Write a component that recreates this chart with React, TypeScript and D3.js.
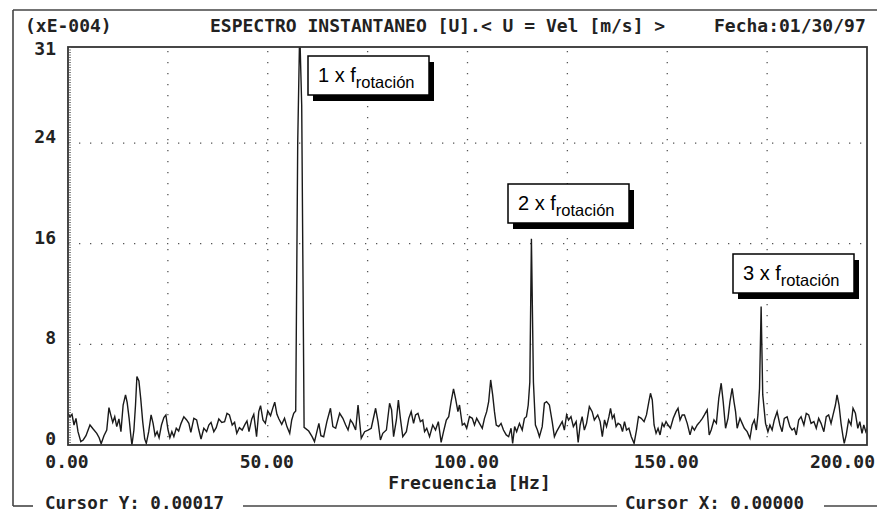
import * as d3 from 'd3';
import React, { useRef, useEffect } from 'react';

// spectrum (frequency in Hz, amplitude in xE-004)
const freqHz = [
  0, 0.5, 1, 1.5, 2, 2.5, 3.2, 3.8, 4.5, 5.5, 6.3, 7.2, 7.8, 8.3, 9, 9.7, 10.25, 10.7, 11.2, 11.7,
  12.2, 12.75, 13.25, 13.8, 14.4, 14.8, 15.3, 15.7, 16, 16.5, 16.9, 17.25, 17.75, 18.2, 18.7, 19.2, 19.6, 20.2, 20.8, 21.3,
  21.8, 22.3, 22.8, 23.4, 24, 24.5, 25, 25.5, 26, 26.5, 27.1, 27.7, 28.3, 29, 29.7, 30.25, 30.75, 31.5, 32.2, 32.75,
  33.3, 34, 34.7, 35.25, 35.8, 36.5, 37.1, 37.75, 38.5, 39.2, 39.8, 40.4, 41.1, 41.7, 42.25, 42.9, 43.6, 44.3, 44.8, 45.3,
  46, 46.5, 47.2, 47.75, 48.2, 48.8, 49.4, 50, 50.7, 51.3, 51.75, 52.3, 52.8, 53.5, 54.2, 54.8, 55.5, 56, 56.5, 57,
  57.5, 58, 58.5, 59.1, 60.25, 61.1, 61.7, 62.3, 62.8, 63.3, 64, 64.8, 65.7, 66.3, 67, 68, 68.8, 69.5, 70.1, 70.7,
  71.3, 72, 72.6, 73.4, 74.25, 75.1, 75.9, 77, 77.6, 78.2, 78.8, 79.7, 80.5, 81, 81.5, 82.2, 82.7, 83.2, 83.8, 84.7,
  85.3, 85.9, 86.5, 87, 87.6, 88.2, 88.8, 89.25, 89.8, 90.5, 91.3, 92, 92.7, 93.4, 94, 94.7, 95.3, 95.9, 96.5, 97,
  97.6, 98, 98.7, 99.25, 99.8, 100.5, 101.2, 101.75, 102.3, 103, 103.7, 104.25, 104.8, 105.3, 105.8, 106.3, 106.75, 107.2, 107.8, 108.4,
  109, 109.7, 110.3, 110.9, 111.3, 111.8, 112.3, 113, 113.7, 114.25, 114.75, 115.2, 115.6, 116, 116.5, 117, 117.5, 118, 118.7, 119.25,
  119.8, 120.5, 121.2, 121.75, 122.3, 123, 123.7, 124.25, 124.8, 125.3, 125.9, 126.5, 127.2, 127.7, 128.2, 128.7, 129.25, 129.8, 130.5, 131.2,
  131.75, 132.6, 133.2, 133.75, 134.3, 134.8, 135.4, 135.8, 136.25, 136.7, 137.2, 137.7, 138.3, 138.8, 139.3, 139.8, 140.4, 141, 141.7, 142.3,
  142.8, 143.5, 144.2, 144.8, 145.4, 145.8, 146.25, 146.7, 147.2, 147.7, 148.2, 148.75, 149.2, 149.7, 150.2, 150.8, 151.5, 152.2, 152.7, 153.2,
  153.75, 154.3, 155, 155.7, 156.25, 156.8, 157.5, 158.2, 158.8, 159.3, 160, 160.5, 161, 161.7, 162.3, 162.9, 163.5, 164, 164.6, 165.2,
  165.7, 166.25, 166.7, 167.1, 167.5, 168.2, 168.75, 169.3, 170, 170.7, 171.25, 171.8, 172.3, 172.7, 173.1, 173.5, 173.9, 174.6, 175.2, 175.7,
  176.25, 176.8, 177.5, 178.2, 178.75, 179.3, 180, 180.7, 181.25, 181.8, 182.3, 182.9, 183.5, 184.2, 184.8, 185.4, 186, 186.7, 187.3, 187.9,
  188.5, 189.2, 189.8, 190.4, 191, 191.5, 192.1, 192.5, 193, 193.5, 194, 194.3, 194.8, 195.4, 196, 196.5, 197.1, 197.7, 198.2, 198.75,
  199.2, 199.7, 200
];

const amplitude = [
  2.52, 2.25, 2.44, 1.59, 2.12, 1.06, 0.27, 0.4, 0.74, 1.59, 1.27, 0.93, 0.58, 0.1, 0.74, 1.19, 2.97, 2.39, 1.8, 2.25,
  1.46, 2.07, 1.06, 3.18, 3.98, 3.4, 2.12, 0.8, 0, 1.19, 3.18, 5.44, 5.09, 3.71, 1.86, 0.48, 0.13, 1.06, 2.39, 1.72,
  0.74, 1.06, 0.58, 1.59, 2.18, 2.39, 1.27, 0.58, 1.06, 0.66, 1.33, 1.11, 1.72, 2.25, 1.99, 1.72, 1.01, 2.12, 1.99, 1.19,
  0.48, 1.33, 1.06, 1.59, 1.8, 1.06, 1.38, 2.07, 1.8, 1.86, 2.52, 2.39, 1.59, 1.8, 0.93, 1.38, 1.19, 1.64, 1.91, 1.06,
  2.07, 2.44, 0.66, 2.65, 3.13, 1.99, 1.72, 2.71, 2.33, 2.97, 3.4, 2.44, 2.07, 1.64, 2.12, 1.46, 0.93, 1.99, 2.52, 2.71,
  24, 33, 27, 1.4, 1.11, 0.66, 0.27, 1.06, 1.72, 0.74, 0.66, 1.86, 2.92, 1.46, 1.33, 2.52, 2.12, 1.59, 1.19, 1.99,
  1.72, 1.19, 3.18, 0.53, 1.06, 1.19, 1.33, 2.92, 1.86, 0.4, 0.93, 1.19, 3.32, 2.79, 0.66, 1.99, 3.58, 2.12, 0.66, 1.06,
  2.12, 2.65, 1.72, 2.39, 2.52, 1.86, 1.99, 1.06, 1.33, 0.66, 1.59, 1.19, 1.86, 0.21, 1.06, 1.99, 2.25, 3.45, 4.46, 3.71,
  2.65, 3.18, 1.59, 1.72, 1.33, 2.25, 2.12, 1.59, 2.12, 1.72, 1.33, 2.12, 2.65, 3.45, 5.17, 3.98, 2.65, 1.59, 1.46, 1.72,
  1.19, 0.8, 0.66, 1.33, 0.13, 1.46, 1.06, 1.72, 1.19, 2.12, 2.25, 3.18, 5, 16.4, 5, 1.59, 1.19, 0.66, 1.46, 3.32,
  3.45, 3.18, 1.86, 0.66, 1.06, 1.46, 1.86, 1.19, 2.39, 1.99, 2.25, 1.46, 1.86, 0.21, 1.59, 2.25, 1.19, 1.72, 3.05, 2.65,
  1.99, 2.39, 1.86, 0.66, 1.99, 1.46, 2.25, 2.92, 2.12, 2.39, 1.46, 1.72, 1.59, 1.06, 1.86, 1.19, 1.33, 0.66, 0.13, 1.19,
  2.25, 2.12, 1.86, 2.39, 3.45, 4.11, 3.58, 1.59, 0.93, 1.33, 0.8, 1.72, 1.46, 1.86, 1.59, 1.33, 2.12, 2.65, 2.92, 1.99,
  2.39, 2.39, 1.72, 0.8, 1.46, 1.19, 1.59, 1.86, 2.12, 2.39, 2.79, 0.8, 1.19, 1.99, 1.72, 3.71, 4.91, 3.45, 1.33, 2.12,
  3.45, 4.51, 3.45, 2.65, 1.33, 2.12, 1.72, 1.33, 1.06, 0.53, 1.59, 1.99, 1.19, 2.39, 4.5, 11.0, 4, 1.72, 1.06, 1.59,
  1.19, 1.99, 2.65, 1.59, 1.06, 2.12, 2.25, 1.46, 1.19, 1.33, 0.8, 1.99, 2.25, 1.59, 2.52, 2.39, 1.72, 1.86, 1.33, 2.12,
  1.72, 1.06, 2.25, 2.39, 1.72, 2.39, 3.18, 3.98, 3.18, 1.72, 0.66, 0.13, 0.8, 1.99, 1.59, 2.92, 2.52, 1.33, 1.86, 0.93,
  1.59, 1.06, 1.3
];

const yTicks = [0, 8, 16, 24, 31];
const yGridValues = [8, 16, 24];
const xTicks = [0, 50, 100, 150, 200];
const xGridValues = [25, 50, 75, 100, 125, 150, 175];

// harmonic labels for the three rotation peaks
const harmonicLabels = ['1 x f', '2 x f', '3 x f'];
const harmonicSub = 'rotación';

const headerLeft = '(xE-004)';
const headerTitle = 'ESPECTRO INSTANTANEO [U].< U = Vel [m/s] >';
const headerDate = 'Fecha:01/30/97';
const xTitle = 'Frecuencia [Hz]';
const cursorY = 'Cursor Y: 0.00017';
const cursorX = 'Cursor X: 0.00000';

const App = () => {
    const svgRef = useRef(null);

    useEffect(() => {
        const width = 877;
        const height = 514;
        const left = 68, right = 867, top = 47, bottom = 445;
        const mono = "'DejaVu Sans Mono', monospace";
        const sans = "'Liberation Sans', Arial, sans-serif";
        const ink = '#222';

        d3.select(svgRef.current).select('svg').remove();

        const svg = d3.select(svgRef.current)
            .append('svg')
            .attr('width', width)
            .attr('height', height)
            .style('position', 'absolute')
            .style('left', 0)
            .style('top', 0)
            .style('background', '#fff');

        const x = d3.scaleLinear().domain([0, 200]).range([left, right]);
        const y = d3.scaleLinear().domain([0, 31]).range([bottom, 55]);

        // outer frame (top + left), bottom line broken by the cursor read-outs
        const frame = svg.append('g').attr('stroke', '#444').attr('stroke-width', 1.6);
        frame.append('line').attr('x1', 13).attr('x2', width).attr('y1', 10).attr('y2', 10);
        frame.append('line').attr('x1', 13).attr('x2', 13).attr('y1', 10).attr('y2', 506);
        frame.append('line').attr('x1', 13).attr('x2', 33).attr('y1', 506).attr('y2', 506);
        frame.append('line').attr('x1', 243).attr('x2', 617).attr('y1', 506).attr('y2', 506);
        frame.append('line').attr('x1', 824).attr('x2', width).attr('y1', 506).attr('y2', 506);

        const monoText = (tx, ty, str, anchor = 'start', size = 18) => svg.append('text')
            .attr('x', tx).attr('y', ty)
            .attr('text-anchor', anchor)
            .style('font-family', mono)
            .style('font-weight', 'bold')
            .style('font-size', `${size}px`)
            .attr('fill', ink)
            .text(str);

        monoText(25, 32, headerLeft);
        monoText(210, 32, headerTitle);
        monoText(714, 32, headerDate);
        monoText(45, 509, cursorY, 'start', 17.5);
        monoText(625, 509, cursorX, 'start', 17.5);
        monoText((left + right) / 2 + 2, 489, xTitle, 'middle');

        // grid
        svg.append('g').selectAll('line')
            .data(yGridValues)
            .enter().append('line')
            .attr('x1', left).attr('x2', right)
            .attr('y1', (d) => y(d)).attr('y2', (d) => y(d))
            .attr('stroke', '#555').attr('stroke-width', 1.3)
            .attr('stroke-dasharray', '1.3 9.7');
        svg.append('g').selectAll('line')
            .data(xGridValues)
            .enter().append('line')
            .attr('x1', (d) => x(d)).attr('x2', (d) => x(d))
            .attr('y1', top + 4).attr('y2', bottom)
            .attr('stroke', '#555').attr('stroke-width', 1.3)
            .attr('stroke-dasharray', '1.3 9.7');

        // spectrum trace, clipped to the plot box
        svg.append('clipPath').attr('id', 'plotClip')
            .append('rect')
            .attr('x', left).attr('y', top)
            .attr('width', right - left).attr('height', bottom - top);

        const line = d3.line()
            .x((d) => x(d[0]))
            .y((d) => y(d[1]));

        svg.append('path')
            .datum(d3.zip(freqHz, amplitude))
            .attr('clip-path', 'url(#plotClip)')
            .attr('fill', 'none')
            .attr('stroke', '#1a1a1a')
            .attr('stroke-width', 1.4)
            .attr('d', line);

        // plot box
        svg.append('rect')
            .attr('x', left).attr('y', top)
            .attr('width', right - left).attr('height', bottom - top)
            .attr('fill', 'none')
            .attr('stroke', '#333')
            .attr('stroke-width', 1.8);
        // fine tick marks along the left edge
        svg.append('line')
            .attr('x1', left + 2).attr('x2', left + 2)
            .attr('y1', top).attr('y2', bottom)
            .attr('stroke', '#555').attr('stroke-width', 1.5)
            .attr('stroke-dasharray', '1 1.5');

        // axis labels
        svg.append('g').selectAll('text')
            .data(yTicks)
            .enter().append('text')
            .attr('x', 56)
            .attr('y', (d) => y(d))
            .attr('text-anchor', 'end')
            .style('font-family', mono).style('font-weight', 'bold').style('font-size', '18px')
            .attr('fill', ink)
            .text((d) => d);

        svg.append('g').selectAll('text')
            .data(xTicks)
            .enter().append('text')
            .attr('x', (d, i) => i === xTicks.length - 1 ? width - 2 : x(d) - 1)
            .attr('y', 468)
            .attr('text-anchor', (d, i) => i === xTicks.length - 1 ? 'end' : 'middle')
            .style('font-family', mono).style('font-weight', 'bold').style('font-size', '18px')
            .attr('fill', ink)
            .text((d) => d3.format('.2f')(d));

        // harmonic call-out boxes with drop shadow
        const boxes = [
            { x: 308, y: 56 },
            { x: 508, y: 184 },
            { x: 733, y: 254 }
        ];
        const boxW = 121, boxH = 39;

        const callout = svg.append('g').selectAll('g')
            .data(harmonicLabels)
            .enter().append('g')
            .attr('transform', (d, i) => `translate(${boxes[i].x},${boxes[i].y})`);

        callout.append('rect')
            .attr('x', 5).attr('y', 6)
            .attr('width', boxW).attr('height', boxH)
            .attr('fill', '#000');
        callout.append('rect')
            .attr('width', boxW).attr('height', boxH)
            .attr('fill', '#fff')
            .attr('stroke', '#000')
            .attr('stroke-width', 1.5);

        const label = callout.append('text')
            .attr('x', 10)
            .attr('y', 26)
            .style('font-family', sans)
            .style('font-size', '20px')
            .attr('fill', '#000');
        label.append('tspan').text((d) => d);
        label.append('tspan')
            .attr('dy', 6)
            .style('font-size', '16.5px')
            .text(harmonicSub);
    }, []);

    return (
        <div ref={svgRef}></div>
    );
};

export default App;
